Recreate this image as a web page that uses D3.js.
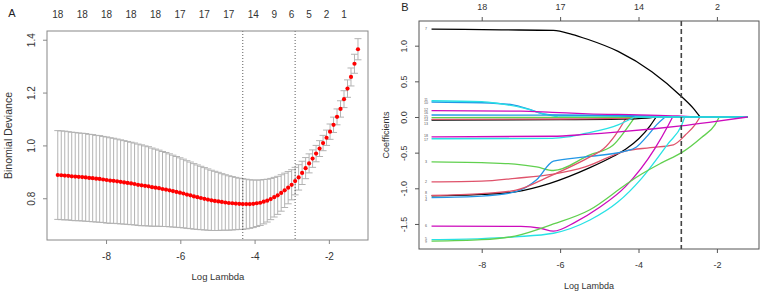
<!DOCTYPE html>
<html><head><meta charset="utf-8">
<script src="https://cdn.jsdelivr.net/npm/d3@7"></script>
<style>body{margin:0;background:#fff}svg{display:block}text{font-family:"Liberation Sans",Arial,sans-serif}</style>
</head><body><svg id="c" width="760" height="291"></svg>
<script>
// ---------- Panel A data (cross-validation curve) ----------
const logLambda = [-9.300,-9.206,-9.112,-9.018,-8.924,-8.830,-8.736,-8.642,-8.548,-8.454,
-8.360,-8.266,-8.172,-8.078,-7.984,-7.890,-7.796,-7.702,-7.608,-7.514,
-7.420,-7.326,-7.232,-7.138,-7.044,-6.950,-6.856,-6.762,-6.668,-6.574,
-6.480,-6.386,-6.292,-6.198,-6.104,-6.010,-5.916,-5.822,-5.728,-5.634,
-5.540,-5.446,-5.352,-5.258,-5.164,-5.070,-4.976,-4.882,-4.788,-4.694,
-4.600,-4.506,-4.412,-4.318,-4.224,-4.130,-4.036,-3.942,-3.848,-3.754,
-3.660,-3.566,-3.472,-3.378,-3.284,-3.190,-3.096,-3.002,-2.908,-2.814,
-2.720,-2.626,-2.532,-2.438,-2.344,-2.250,-2.156,-2.062,-1.968,-1.874,
-1.780,-1.686,-1.592,-1.498,-1.404,-1.310,-1.216];
const cvMean = [0.888,0.887,0.886,0.885,0.883,0.882,0.881,0.880,0.879,0.877,
0.876,0.874,0.873,0.871,0.869,0.867,0.866,0.864,0.862,0.860,
0.858,0.856,0.854,0.851,0.849,0.847,0.845,0.842,0.840,0.838,
0.835,0.833,0.830,0.827,0.824,0.821,0.818,0.814,0.811,0.807,
0.804,0.801,0.798,0.795,0.792,0.790,0.788,0.786,0.784,0.782,
0.781,0.780,0.779,0.778,0.778,0.778,0.779,0.781,0.783,0.787,
0.791,0.797,0.804,0.811,0.820,0.830,0.840,0.851,0.865,0.879,
0.896,0.914,0.932,0.950,0.969,0.988,1.009,1.029,1.052,1.078,
1.108,1.138,1.175,1.215,1.259,1.309,1.364];
const cvSd = [0.168,0.168,0.168,0.167,0.167,0.167,0.166,0.166,0.166,0.165,
0.165,0.164,0.164,0.163,0.163,0.162,0.161,0.160,0.159,0.158,
0.157,0.156,0.155,0.154,0.153,0.151,0.150,0.148,0.146,0.144,
0.142,0.140,0.138,0.136,0.134,0.132,0.130,0.128,0.126,0.124,
0.122,0.120,0.118,0.116,0.114,0.112,0.110,0.107,0.105,0.103,
0.101,0.099,0.097,0.096,0.094,0.092,0.090,0.088,0.086,0.084,
0.081,0.078,0.075,0.072,0.069,0.065,0.061,0.057,0.052,0.048,
0.044,0.040,0.036,0.033,0.031,0.030,0.029,0.029,0.029,0.029,
0.030,0.031,0.032,0.033,0.034,0.036,0.040];
const nzeroLabels = ["18","18","18","18","18","17","17","17","14","9","6","5","2","1"];
const nzeroAt = [-9.300,-8.642,-7.984,-7.326,-6.668,-6.010,-5.352,-4.694,-4.036,-3.472,-3.002,-2.532,-2.062,-1.592];
const lambdaMin = -4.318;
const lambda1se = -2.908;
const xTicksA = [-8,-6,-4,-2];
const yTicksA = [0.8,1.0,1.2,1.4];

// ---------- Panel B data (coefficient paths) ----------
const varNames = ["1","2","3","4","5","6","7","8","9","10","11","12","13","14","15","16","17","18"];
const coefPaths = [
 [[-9.28,-1.105],[-8,-1.085],[-7.15,-1.05],[-6.26,-0.93],[-5.24,-0.71],[-4.64,-0.55],[-4.32,-0.45],[-3.7,-0.12],[-3.55,0],[-1.22,0]],
 [[-9.28,-0.91],[-8,-0.90],[-7.15,-0.86],[-6.17,-0.80],[-5.36,-0.70],[-4.34,-0.477],[-3.7,-0.43],[-3.11,-0.39],[-2.8,-0.25],[-2.56,-0.11],[-2.43,0],[-1.22,0]],
 [[-9.28,-0.63],[-8,-0.64],[-7.15,-0.66],[-6.6,-0.70],[-6.17,-0.75],[-5.24,-0.53],[-4.66,-0.40],[-4.35,-0.2],[-4.09,0],[-1.22,0]],
 [[-9.28,-1.13],[-8,-1.11],[-7.15,-1.05],[-6.6,-0.88],[-6.17,-0.62],[-5.36,-0.56],[-4.34,-0.48],[-4.05,-0.42],[-3.75,-0.25],[-3.54,-0.11],[-3.32,0],[-1.22,0]],
 [[-9.28,-1.72],[-8,-1.705],[-7.15,-1.68],[-6.17,-1.63],[-5.24,-1.445],[-4.52,-1.19],[-3.92,-0.86],[-3.24,-0.37],[-2.9,-0.115],[-2.82,0],[-1.22,0]],
 [[-9.28,-1.53],[-7,-1.535],[-6.5,-1.56],[-6.17,-1.60],[-5.6,-1.47],[-5.0,-1.27],[-4.34,-0.98],[-3.58,-0.44],[-3.24,-0.115],[-3.13,0],[-1.22,0]],
 [[-9.28,1.232],[-7.5,1.222],[-6.17,1.215],[-5.7,1.16],[-5.3,1.09],[-4.52,0.92],[-3.66,0.635],[-2.92,0.295],[-2.6,0.12],[-2.43,0],[-1.22,0]],
 [[-9.28,-1.10],[-8,-1.075],[-7.15,-1.03],[-6.3,-0.84],[-5.24,-0.56],[-4.9,-0.45],[-4.6,-0.26],[-4.3,0],[-1.22,0]],
 [[-9.28,-1.74],[-8,-1.72],[-7.15,-1.67],[-6.17,-1.50],[-5.24,-1.30],[-4.34,-0.954],[-3.92,-0.80],[-3.4,-0.64],[-2.9,-0.50],[-2.4,-0.29],[-2.05,-0.11],[-1.94,0],[-1.22,0]],
 [[-9.28,0.21],[-8,0.20],[-7.2,0.17],[-6.8,0.11],[-6.4,0.04],[-6.0,0.025],[-4.5,0.02],[-3.4,0.012],[-3.2,0],[-1.22,0]],
 [[-9.28,0.228],[-8,0.215],[-7.58,0.19],[-6.9,0.12],[-6.39,0.04],[-6.05,0],[-1.22,0]],
 [[-9.28,0.088],[-7,0.082],[-6.2,0.065],[-5.3,0.045],[-4,0.03],[-3,0.015],[-2.48,0],[-1.22,0]],
 [[-9.28,-0.045],[-6,-0.038],[-4.5,-0.03],[-3.8,-0.015],[-3.6,0],[-1.22,0]],
 [[-9.28,-0.032],[-6,-0.028],[-4.5,-0.02],[-3.9,0],[-1.22,0]],
 [[-9.28,-0.008],[-6,-0.006],[-4.5,-0.004],[-3.8,0],[-1.22,0]],
 [[-9.28,0.028],[-6,0.025],[-4.5,0.015],[-3.7,0],[-1.22,0]],
 [[-9.28,-0.305],[-6.2,-0.30],[-5.8,-0.28],[-5.36,-0.23],[-4.52,-0.11],[-4.1,0],[-1.22,0]],
 [[-9.28,-0.28],[-6.2,-0.27],[-5.36,-0.245],[-4.5,-0.21],[-3.6,-0.165],[-2.92,-0.125],[-2.2,-0.075],[-1.22,0]]
];
const pathColors = ["#000000","#DF536B","#61D04F","#2297E6","#28E2E5","#CD0BBC"];
const topLabelsB = ["18","17","14","2"];
const topAtB = [-8,-6,-4,-2];
const xTicksB = [-8,-6,-4,-2];
const yTicksB = [-1.5,-1.0,-0.5,0.0,0.5,1.0];

const svg = d3.select("#c");
const fmt1 = d => d.toFixed(1);
const fmt0 = d => String(d);

// ================= Panel A =================
const A = {l:47, r:368, t:31, b:240};
const xA = d3.scaleLinear().domain([-9.59,-0.946]).range([A.l, A.r]);
const yA = d3.scaleLinear().domain([0.642,1.433]).range([A.b, A.t]);
const gA = svg.append("g");

const capW = 3.5;
const eb = gA.append("g").attr("stroke","#b3b3b3").attr("stroke-width",1).attr("fill","none");
logLambda.forEach((l,i)=>{
  const x = xA(l), yu = yA(cvMean[i]+cvSd[i]), yl = yA(cvMean[i]-cvSd[i]);
  eb.append("line").attr("x1",x).attr("x2",x).attr("y1",yu).attr("y2",yl);
  eb.append("line").attr("x1",x-capW).attr("x2",x+capW).attr("y1",yu).attr("y2",yu);
  eb.append("line").attr("x1",x-capW).attr("x2",x+capW).attr("y1",yl).attr("y2",yl);
});
[lambdaMin, lambda1se].forEach(l=>{
  gA.append("line").attr("x1",xA(l)).attr("x2",xA(l)).attr("y1",A.t).attr("y2",A.b)
    .attr("stroke","#333").attr("stroke-width",0.8).attr("stroke-dasharray","1,2");
});
gA.append("g").selectAll("circle").data(logLambda).join("circle")
  .attr("cx",d=>xA(d)).attr("cy",(d,i)=>yA(cvMean[i])).attr("r",2.1).attr("fill","#ff0000");
gA.append("rect").attr("x",A.l).attr("y",A.t).attr("width",A.r-A.l).attr("height",A.b-A.t)
  .attr("fill","none").attr("stroke","#888").attr("stroke-width",1);
const axLA = gA.append("g").attr("transform",`translate(${A.l},0)`)
  .call(d3.axisLeft(yA).tickValues(yTicksA).tickSize(4).tickFormat(fmt1));
axLA.select(".domain").remove();
axLA.selectAll("line").attr("stroke","#888");
axLA.selectAll("text").attr("x",0).attr("y",0).attr("dy","0.35em")
  .attr("text-anchor","middle").attr("transform","translate(-16,0) rotate(-90)")
  .attr("font-size",10).attr("fill","#333").attr("font-family",null);
const axBA = gA.append("g").attr("transform",`translate(0,${A.b})`)
  .call(d3.axisBottom(xA).tickValues(xTicksA).tickSize(4).tickFormat(fmt0));
axBA.select(".domain").remove();
axBA.selectAll("line").attr("stroke","#888");
axBA.selectAll("text").attr("y",12.5).attr("font-size",10).attr("fill","#333").attr("font-family",null);
gA.append("g").selectAll("text").data(nzeroLabels).join("text")
  .attr("x",(d,i)=>xA(nzeroAt[i])).attr("y",14).attr("dy","0.35em").attr("text-anchor","middle")
  .attr("font-size",10).attr("fill","#333").text(d=>d);
gA.append("text").attr("x",218).attr("y",277).attr("dy","0.35em").attr("text-anchor","middle")
  .attr("font-size",9.5).attr("fill","#333").text("Log Lambda");
gA.append("text").attr("transform",`translate(8,${(A.t+A.b)/2}) rotate(-90)`).attr("dy","0.35em")
  .attr("text-anchor","middle").attr("font-size",10.5).attr("fill","#333").text("Binomial Deviance");
gA.append("text").attr("x",12).attr("y",13).attr("dy","0.35em").attr("text-anchor","middle")
  .attr("font-size",11).attr("fill","#222").text("A");

// ================= Panel B =================
const B = {l:419, r:759, t:21, b:249};
const xB = d3.scaleLinear().domain([-9.6,-0.926]).range([B.l, B.r]);
const yB = d3.scaleLinear().domain([-1.851,1.346]).range([B.b, B.t]);
const gB = svg.append("g");
const lineB = d3.line().x(d=>xB(d[0])).y(d=>yB(d[1])).curve(d3.curveMonotoneX);
const lineLin = d3.line().x(d=>xB(d[0])).y(d=>yB(d[1]));
coefPaths.forEach((pts,j)=>{
  let k = pts.length-1;
  while(k>0 && pts[k-1][1]===0) k--;
  const active = pts.slice(0,k+1), zero = pts.slice(k);
  const col = pathColors[j%6];
  gB.append("path").attr("d",lineB(active)).attr("fill","none").attr("stroke",col).attr("stroke-width",1.3);
  if(zero.length>1) gB.append("path").attr("d",lineLin(zero)).attr("fill","none").attr("stroke",col).attr("stroke-width",1.3);
});
// variable labels at the left end of each path; nudge stacked ones apart
const labs = varNames.map((d,j)=>({t:d, y:yB(coefPaths[j][0][1]), x:B.l+7}));
const sorted = labs.slice().sort((a,b)=>a.y-b.y);
for(let it=0; it<40; it++){
  for(let i=1;i<sorted.length;i++){
    const gap = sorted[i].y - sorted[i-1].y;
    if(gap < 3.6){ const m=(3.6-gap)/2; sorted[i].y += m; sorted[i-1].y -= m; }
  }
}
gB.append("g").selectAll("text").data(labs).join("text")
  .attr("x",d=>d.x).attr("y",d=>d.y).attr("dy","0.35em").attr("text-anchor","middle")
  .attr("font-size",3.6).attr("fill","#555").text(d=>d.t);
gB.append("line").attr("x1",xB(lambda1se)).attr("x2",xB(lambda1se)).attr("y1",B.t).attr("y2",B.b)
  .attr("stroke","#444").attr("stroke-width",1.6).attr("stroke-dasharray","5,3");
gB.append("rect").attr("x",B.l).attr("y",B.t).attr("width",B.r-B.l).attr("height",B.b-B.t)
  .attr("fill","none").attr("stroke","#555").attr("stroke-width",1);
const axLB = gB.append("g").attr("transform",`translate(${B.l},0)`)
  .call(d3.axisLeft(yB).tickValues(yTicksB).tickSize(4).tickFormat(fmt1));
axLB.select(".domain").remove();
axLB.selectAll("line").attr("stroke","#555");
axLB.selectAll("text").attr("x",0).attr("y",0).attr("dy","0.35em")
  .attr("text-anchor","middle").attr("transform","translate(-15,0) rotate(-90)")
  .attr("font-size",9).attr("fill","#333").attr("font-family",null);
const axBB = gB.append("g").attr("transform",`translate(0,${B.b})`)
  .call(d3.axisBottom(xB).tickValues(xTicksB).tickSize(4).tickFormat(fmt0));
axBB.select(".domain").remove();
axBB.selectAll("line").attr("stroke","#555");
axBB.selectAll("text").attr("y",13).attr("font-size",9).attr("fill","#333").attr("font-family",null);
const axTB = gB.append("g").attr("transform",`translate(0,${B.t})`)
  .call(d3.axisTop(xB).tickValues(topAtB).tickSize(4).tickFormat((d,i)=>topLabelsB[i]));
axTB.select(".domain").remove();
axTB.selectAll("line").attr("stroke","#555");
axTB.selectAll("text").attr("y",-14).attr("dy","0.35em").attr("font-size",9).attr("fill","#333").attr("font-family",null);
gB.append("text").attr("x",(B.l+B.r)/2).attr("y",286).attr("dy","0.35em").attr("text-anchor","middle")
  .attr("font-size",9).attr("fill","#333").text("Log Lambda");
gB.append("text").attr("transform",`translate(386,${(B.t+B.b)/2}) rotate(-90)`).attr("dy","0.35em")
  .attr("text-anchor","middle").attr("font-size",9).attr("fill","#333").text("Coefficients");
gB.append("text").attr("x",405).attr("y",7).attr("dy","0.35em").attr("text-anchor","middle")
  .attr("font-size",11).attr("fill","#222").text("B");
</script></body></html>
